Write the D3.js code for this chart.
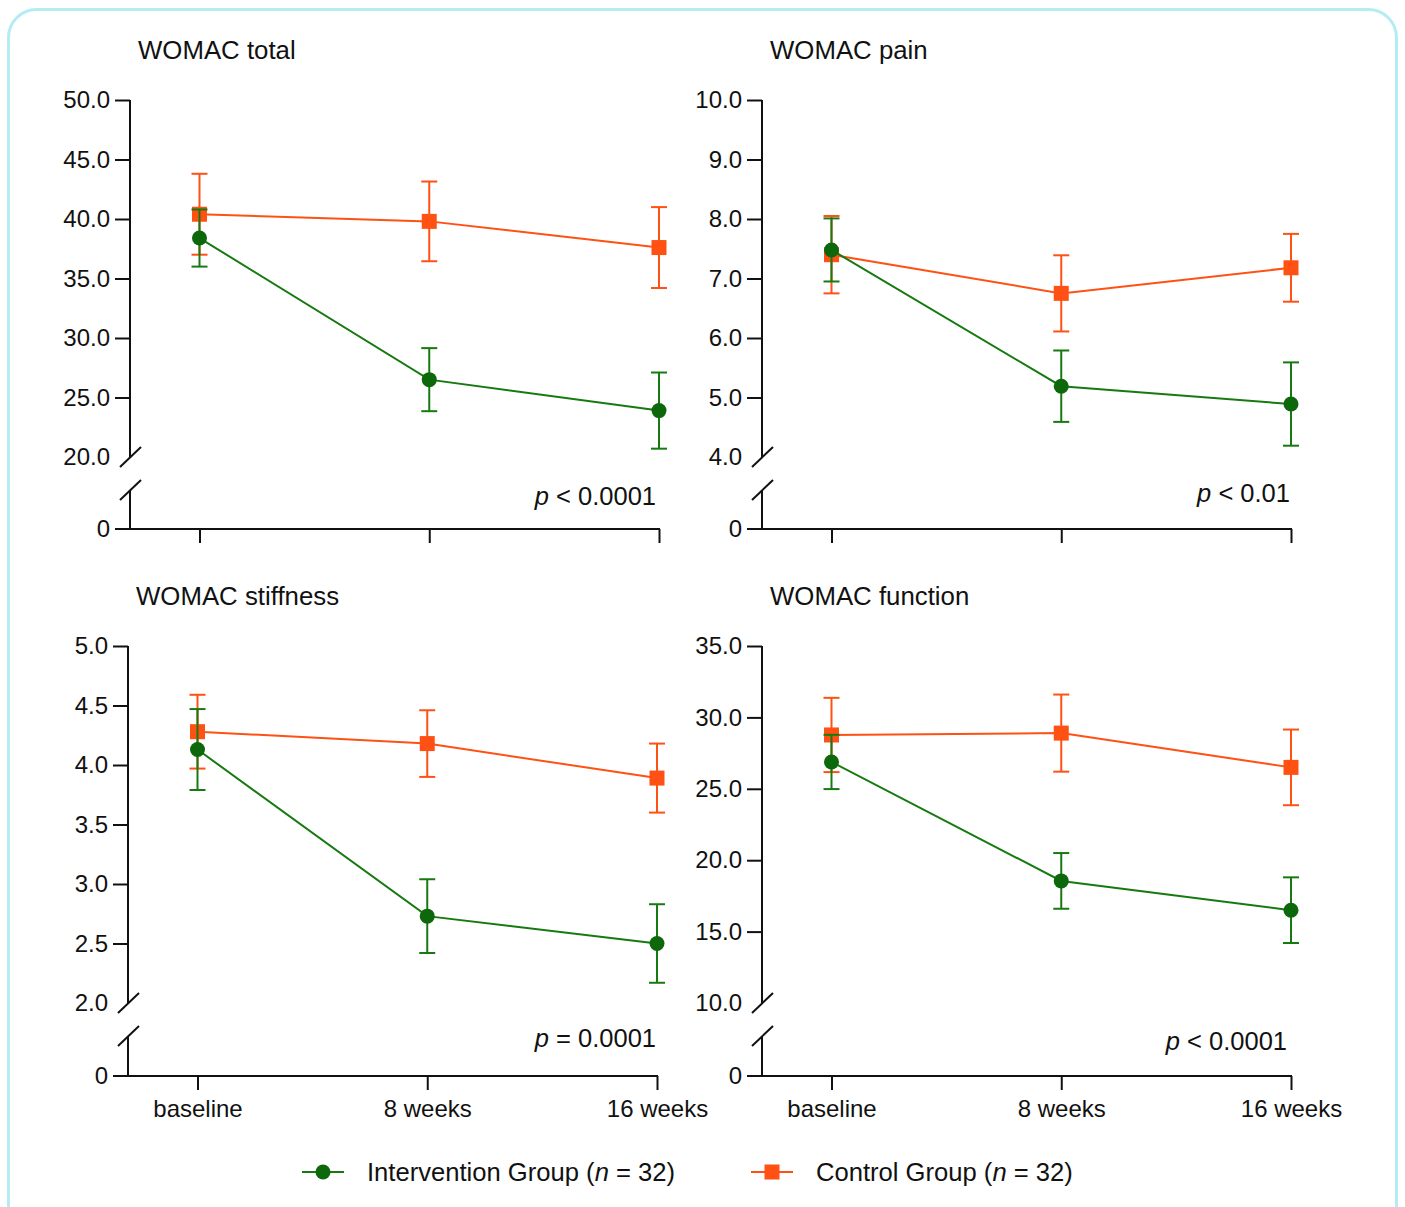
<!DOCTYPE html>
<html>
<head>
<meta charset="utf-8">
<title>WOMAC scores</title>
<style>
  body { margin: 0; background: #fff; }
  text { font-family: "Liberation Sans", Arial, sans-serif; fill: #111; }
</style>
</head>
<body>
<script src="https://cdn.jsdelivr.net/npm/d3@7"></script>
<script>
// data (mean and error bar half-length)
var timepoints = ["baseline", "8 weeks", "16 weeks"];

var totalIntervention = [38.4, 26.5, 23.9];
var totalInterventionErr = [2.4, 2.65, 3.2];
var totalControl = [40.4, 39.8, 37.6];
var totalControlErr = [3.4, 3.35, 3.4];

var painIntervention = [7.48, 5.19, 4.89];
var painInterventionErr = [0.53, 0.6, 0.7];
var painControl = [7.4, 6.75, 7.18];
var painControlErr = [0.65, 0.64, 0.57];

var stiffIntervention = [4.13, 2.73, 2.5];
var stiffInterventionErr = [0.34, 0.31, 0.33];
var stiffControl = [4.28, 4.18, 3.89];
var stiffControlErr = [0.31, 0.28, 0.29];

var funcIntervention = [26.88, 18.55, 16.5];
var funcInterventionErr = [1.9, 1.95, 2.3];
var funcControl = [28.77, 28.9, 26.5];
var funcControlErr = [2.6, 2.7, 2.65];

var pLabels = ["< 0.0001", "< 0.01", "= 0.0001", "< 0.0001"];

var green = "#177a10", greenDot = "#0c680b", orange = "#ff5114";

var panels = [
  { title: "WOMAC total", left: 130, top: 100, brk: 457, zero: 529, lo: 20, hi: 50, step: 5,
    ints: totalIntervention, intErr: totalInterventionErr, ctl: totalControl, ctlErr: totalControlErr,
    p: pLabels[0], pX: 656, pY: 505, xlabels: false },
  { title: "WOMAC pain", left: 762, top: 100, brk: 457, zero: 529, lo: 4, hi: 10, step: 1,
    ints: painIntervention, intErr: painInterventionErr, ctl: painControl, ctlErr: painControlErr,
    p: pLabels[1], pX: 1290, pY: 502, xlabels: false },
  { title: "WOMAC stiffness", left: 128, top: 646, brk: 1003, zero: 1076, lo: 2, hi: 5, step: 0.5,
    ints: stiffIntervention, intErr: stiffInterventionErr, ctl: stiffControl, ctlErr: stiffControlErr,
    p: pLabels[2], pX: 656, pY: 1047, xlabels: true },
  { title: "WOMAC function", left: 762, top: 646, brk: 1003, zero: 1076, lo: 10, hi: 35, step: 5,
    ints: funcIntervention, intErr: funcInterventionErr, ctl: funcControl, ctlErr: funcControlErr,
    p: pLabels[3], pX: 1287, pY: 1050, xlabels: true }
];

var svg = d3.select("body").append("svg")
  .attr("width", 1405)
  .attr("height", 1207);

// rounded frame
svg.append("rect")
  .attr("x", 8.5).attr("y", 9.5)
  .attr("width", 1388).attr("height", 1260)
  .attr("rx", 28)
  .attr("fill", "none")
  .attr("stroke", "#b4ecf4")
  .attr("stroke-width", 3);

panels.forEach(function (p) {
  var g = svg.append("g");

  var x = d3.scalePoint().domain(timepoints).range([p.left + 69.5, p.left + 529]);
  var y = d3.scaleLinear().domain([p.lo, p.hi]).range([p.brk, p.top]);
  var yZero = d3.scaleLinear().domain([0, 1]).range([p.zero, p.zero - 40]);

  // title
  g.append("text")
    .attr("x", p.left + 8)
    .attr("y", p.top - 41)
    .style("font-size", "25.8px")
    .text(p.title);

  // upper y axis
  var ticks = d3.range(p.lo, p.hi + p.step / 2, p.step);
  var ya = g.append("g")
    .attr("transform", "translate(" + p.left + ",0)")
    .call(d3.axisLeft(y).tickValues(ticks).tickFormat(d3.format(".1f")).tickSize(15).tickPadding(5));
  ya.select(".domain").remove();
  ya.selectAll(".tick line").attr("stroke", "#111").attr("stroke-width", 2)
    .filter(function (d) { return d === p.lo; }).remove();
  ya.selectAll(".tick text").style("font-size", "24px").style("font-family", "Liberation Sans, Arial, sans-serif");

  g.append("line")
    .attr("x1", p.left).attr("x2", p.left)
    .attr("y1", y(p.hi)).attr("y2", p.brk)
    .attr("stroke", "#111").attr("stroke-width", 2);

  // lower y axis (zero)
  var yb = g.append("g")
    .attr("transform", "translate(" + p.left + ",0)")
    .call(d3.axisLeft(yZero).tickValues([0]).tickFormat(d3.format("d")).tickSize(15).tickPadding(5));
  yb.select(".domain").remove();
  yb.selectAll(".tick line").remove();
  yb.selectAll(".tick text").style("font-size", "24px").style("font-family", "Liberation Sans, Arial, sans-serif");

  var lowTop = p.brk + 33;
  g.append("line")
    .attr("x1", p.left).attr("x2", p.left)
    .attr("y1", lowTop).attr("y2", p.zero)
    .attr("stroke", "#111").attr("stroke-width", 2);

  // break marks
  [p.brk, lowTop].forEach(function (by) {
    g.append("line")
      .attr("x1", p.left - 10).attr("y1", by + 10)
      .attr("x2", p.left + 11).attr("y2", by - 10)
      .attr("stroke", "#111").attr("stroke-width", 2);
  });

  // x axis
  var xa = g.append("g")
    .attr("transform", "translate(0," + p.zero + ")")
    .call(d3.axisBottom(x).tickSize(14).tickPadding(10).tickSizeOuter(0));
  xa.select(".domain").remove();
  xa.selectAll(".tick line").attr("stroke", "#111").attr("stroke-width", 2);
  xa.selectAll(".tick text").style("font-size", "24px").style("font-family", "Liberation Sans, Arial, sans-serif");
  if (!p.xlabels) xa.selectAll(".tick text").remove();

  g.append("line")
    .attr("x1", p.left - 15).attr("x2", x(timepoints[2]) + 1)
    .attr("y1", p.zero).attr("y2", p.zero)
    .attr("stroke", "#111").attr("stroke-width", 2);

  // p value
  var pt = g.append("text")
    .attr("x", p.pX).attr("y", p.pY)
    .attr("text-anchor", "end")
    .style("font-size", "25.5px");
  pt.append("tspan").style("font-style", "italic").text("p");
  pt.append("tspan").text(" " + p.p);

  // series: control first, intervention on top
  var series = [
    { vals: p.ctl, err: p.ctlErr, color: orange, shape: "square" },
    { vals: p.ints, err: p.intErr, color: green, shape: "circle" }
  ];

  series.forEach(function (s) {
    var pts = timepoints.map(function (t, i) { return { t: t, v: s.vals[i], e: s.err[i] }; });
    var sg = g.append("g");

    sg.append("path")
      .datum(pts)
      .attr("fill", "none")
      .attr("stroke", s.color)
      .attr("stroke-width", 2)
      .attr("d", d3.line().x(function (d) { return x(d.t); }).y(function (d) { return y(d.v); }));

    var eb = sg.selectAll(".err").data(pts).enter().append("g");
    eb.append("line")
      .attr("x1", function (d) { return x(d.t); }).attr("x2", function (d) { return x(d.t); })
      .attr("y1", function (d) { return y(d.v + d.e); }).attr("y2", function (d) { return y(d.v - d.e); })
      .attr("stroke", s.color).attr("stroke-width", 2);
    [1, -1].forEach(function (sign) {
      eb.append("line")
        .attr("x1", function (d) { return x(d.t) - 8; }).attr("x2", function (d) { return x(d.t) + 8; })
        .attr("y1", function (d) { return y(d.v + sign * d.e); }).attr("y2", function (d) { return y(d.v + sign * d.e); })
        .attr("stroke", s.color).attr("stroke-width", 2);
    });

    if (s.shape === "circle") {
      sg.selectAll(".dot").data(pts).enter().append("circle")
        .attr("cx", function (d) { return x(d.t); })
        .attr("cy", function (d) { return y(d.v); })
        .attr("r", 7.5)
        .attr("fill", greenDot);
    } else {
      sg.selectAll(".sq").data(pts).enter().append("rect")
        .attr("x", function (d) { return x(d.t) - 7.5; })
        .attr("y", function (d) { return y(d.v) - 7.5; })
        .attr("width", 15).attr("height", 15)
        .attr("fill", orange);
    }
  });
});

// legend
var legend = [
  { label: "Intervention Group (", color: green, shape: "circle", x: 302 },
  { label: "Control Group (", color: orange, shape: "square", x: 751 }
];
var lg = svg.append("g").attr("transform", "translate(0,1172)");
legend.forEach(function (l) {
  lg.append("line")
    .attr("x1", l.x).attr("x2", l.x + 42)
    .attr("stroke", l.color).attr("stroke-width", 2);
  if (l.shape === "circle") {
    lg.append("circle").attr("cx", l.x + 21).attr("r", 7.5).attr("fill", greenDot);
  } else {
    lg.append("rect").attr("x", l.x + 13.5).attr("y", -7.5).attr("width", 15).attr("height", 15).attr("fill", orange);
  }
  var t = lg.append("text").attr("x", l.x + 65).attr("y", 9).style("font-size", "25.6px");
  t.append("tspan").text(l.label);
  t.append("tspan").style("font-style", "italic").text("n");
  t.append("tspan").text(" = 32)");
});
</script>
</body>
</html>
